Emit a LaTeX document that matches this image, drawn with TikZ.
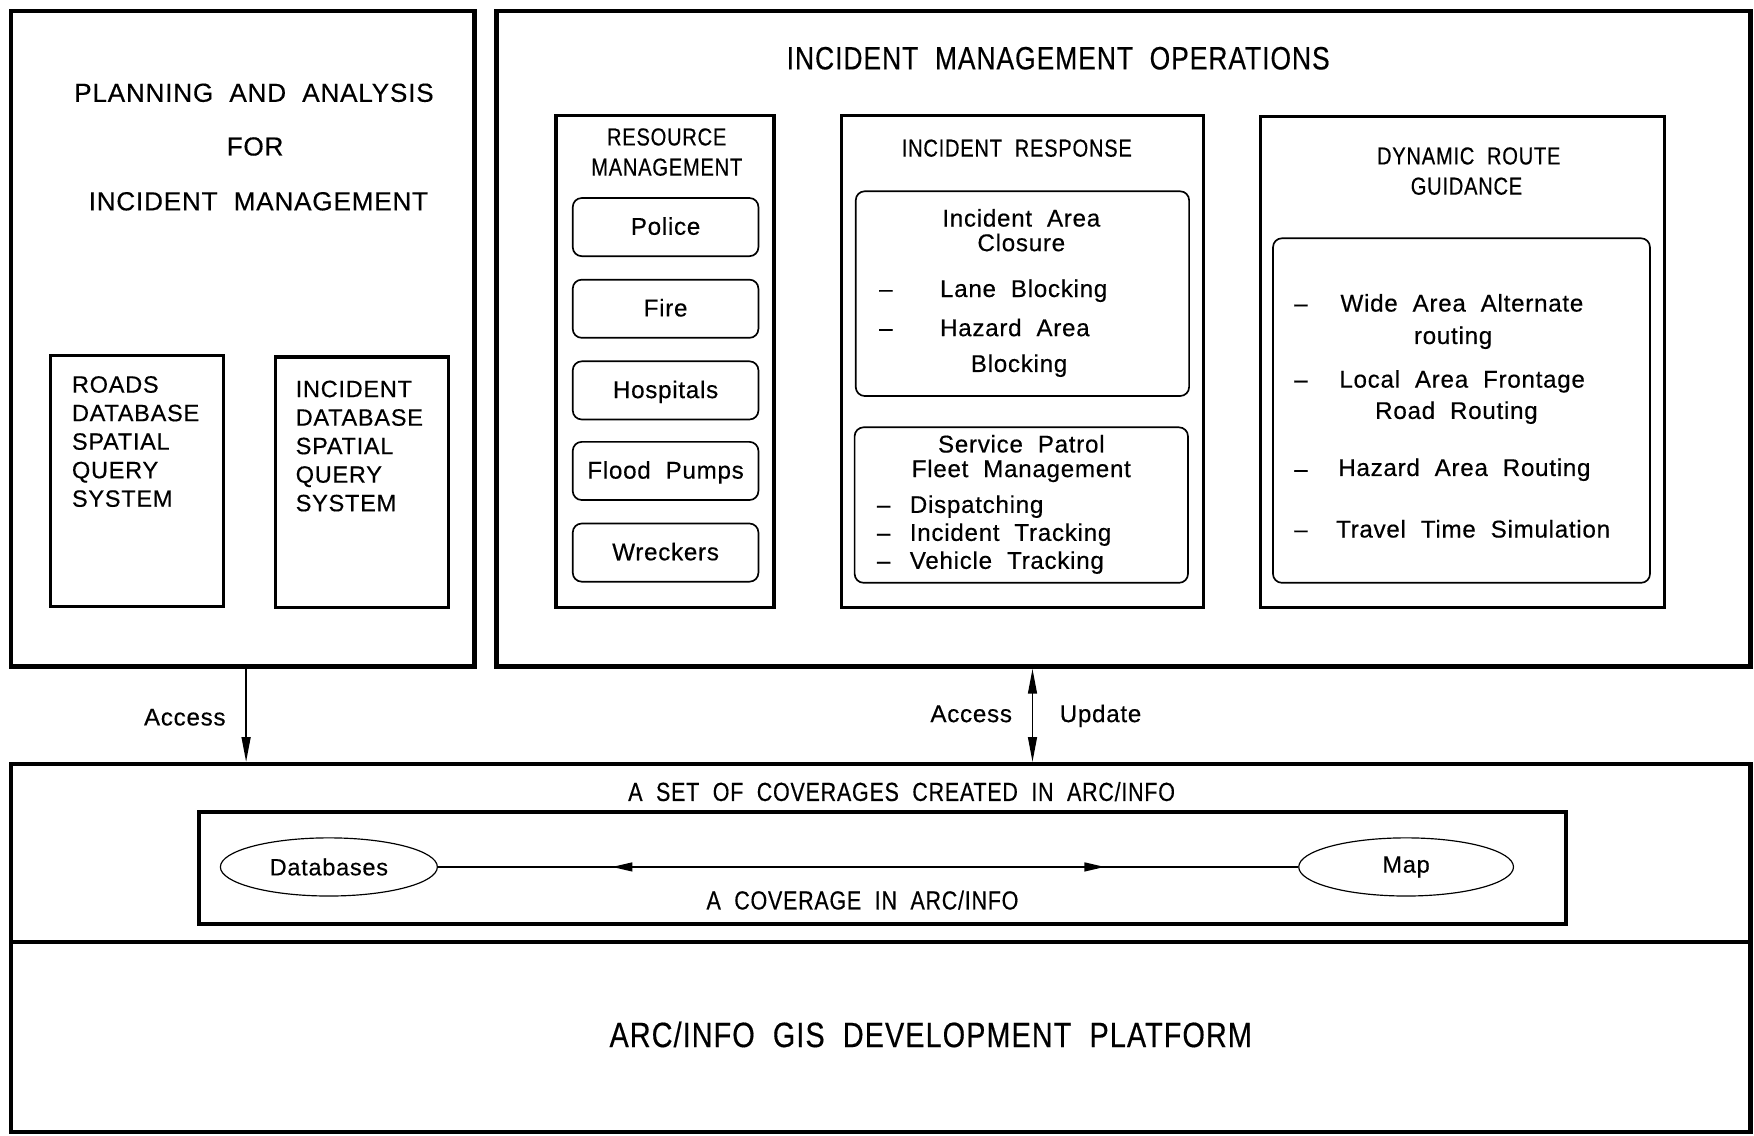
\documentclass[tikz,border=0pt]{standalone}
\usepackage{fontspec}
\setmainfont{Liberation Sans}[LetterSpace=3,WordSpace=2,FakeBold=0.4]
\newfontfamily\narrowfont{Liberation Sans}[FakeStretch=0.82,LetterSpace=3,WordSpace=2,FakeBold=0.4]
\usetikzlibrary{arrows.meta,shapes.geometric,fit,decorations.markings}

\tikzset{
  heavybox/.style={draw, line width=2.3pt, inner sep=0pt},
  panel/.style={draw, line width=1.7pt, inner sep=0pt},
  softbox/.style={draw, line width=0.85pt, rounded corners=0.16cm, inner sep=0pt},
  oval/.style={draw, ellipse, line width=0.6pt, inner sep=0pt, minimum height=1.04cm, font=\fontsize{12}{14}\selectfont},
  itemtxt/.style={font=\fontsize{12.3}{14}\selectfont, inner sep=0pt},
  headtxt/.style={font=\fontsize{13.3}{16}\selectfont, inner sep=0pt},
  dbtxt/.style={font=\fontsize{12}{14}\selectfont, inner sep=0pt},
  captxt/.style={font=\narrowfont\fontsize{12.5}{15}\selectfont, inner sep=0pt},
  covtxt/.style={font=\narrowfont\fontsize{13.3}{16}\selectfont, inner sep=0pt},
  titletxt/.style={font=\narrowfont\fontsize{16.4}{19}\selectfont, inner sep=0pt},
  gistxt/.style={font=\narrowfont\fontsize{17.9}{21}\selectfont, inner sep=0pt},
  flow/.style={line width=0.7pt, -{Triangle[length=0.44cm,width=0.16cm]}},
  twoway/.style={line width=0.7pt, {Triangle[length=0.44cm,width=0.16cm]}-{Triangle[length=0.44cm,width=0.16cm]}},
  covline/.style={line width=0.7pt, postaction={decorate}, decoration={markings,
      mark=at position 0.226 with {\arrow{Triangle[length=0.36cm,width=0.16cm,reversed]}},
      mark=at position 0.775 with {\arrow{Triangle[length=0.36cm,width=0.16cm]}}}},
}

\begin{document}
\begin{tikzpicture}[x=0.02cm, y=-0.02cm]
\useasboundingbox (0,0) rectangle (1568,1015);

% planning and analysis
\node[heavybox, fit={(10,10) (424,596)}] (plan) {};
\node[headtxt, anchor=base] (plan-t1) at (227,91) {PLANNING AND ANALYSIS};
\node[headtxt, anchor=base] (plan-t2) at (228,139) {FOR};
\node[headtxt, anchor=base] (plan-t3) at (231,188) {INCIDENT MANAGEMENT};
\node[panel, fit={(45,318) (200,542)}] (roads) {};
\node[panel, fit={(246,319) (401,543)}] (incdb) {};
\foreach \t [count=\i] in {ROADS,DATABASE,SPATIAL,QUERY,SYSTEM}
  \node[dbtxt, anchor=base west] (roads-\i) at (64,{351+25.5*(\i-1)}) {\t};
\foreach \t [count=\i] in {INCIDENT,DATABASE,SPATIAL,QUERY,SYSTEM}
  \node[dbtxt, anchor=base west] (incdb-\i) at (264,{355+25.5*(\i-1)}) {\t};

% operations
\node[heavybox, fit={(444,10) (1565,596)}] (ops) {};
\node[titletxt, anchor=base] (ops-t) at (946,62) {INCIDENT MANAGEMENT OPERATIONS};

\node[panel, fit={(497,103) (692,543)}] (res) {};
\node[captxt, anchor=base] (res-t1) at (596,130) {RESOURCE};
\node[captxt, anchor=base] (res-t2) at (596,157) {MANAGEMENT};
\foreach \t/\y [count=\i] in {Police/203,Fire/276,Hospitals/349,Flood Pumps/421,Wreckers/494}
  \node[softbox, itemtxt, minimum width=3.32cm, minimum height=1.04cm, text height=8.8pt, text depth=1pt] (res-\i) at (595,\y) {\t};

\node[panel, fit={(752,103) (1076,543)}] (resp) {};
\node[captxt, anchor=base] (resp-t) at (909,140) {INCIDENT RESPONSE};
\node[softbox, fit={(765,171) (1063,354)}] (closure) {};
\node[itemtxt, anchor=base] (closure-t1) at (913,202.5) {Incident Area};
\node[itemtxt, anchor=base] (closure-t2) at (913,224.5) {Closure};
\node[itemtxt, anchor=base] (closure-d1) at (792,265.5) {–};
\node[itemtxt, anchor=base west] (closure-1) at (840,265.5) {Lane Blocking};
\node[itemtxt, anchor=base] (closure-d2) at (792,300.5) {–};
\node[itemtxt, anchor=base west] (closure-2) at (840,300.5) {Hazard Area};
\node[itemtxt, anchor=base] (closure-3) at (911,332.5) {Blocking};
\node[softbox, fit={(764,382) (1062,521)}] (patrol) {};
\node[itemtxt, anchor=base] (patrol-t1) at (913,404.5) {Service Patrol};
\node[itemtxt, anchor=base] (patrol-t2) at (913,426.5) {Fleet Management};
\foreach \t [count=\i] in {Dispatching,Incident Tracking,Vehicle Tracking} {
  \node[itemtxt, anchor=base] (patrol-d\i) at (790,{458.5+25*(\i-1)}) {–};
  \node[itemtxt, anchor=base west] (patrol-\i) at (813,{458.5+25*(\i-1)}) {\t};
}

\node[panel, fit={(1127,104) (1488,543)}] (route) {};
\node[captxt, anchor=base] (route-t1) at (1313,147) {DYNAMIC ROUTE};
\node[captxt, anchor=base] (route-t2) at (1311,174) {GUIDANCE};
\node[softbox, fit={(1138,213) (1475,521)}] (guide) {};
\foreach \y [count=\i] in {278.5,346.5,426.5,480.5}
  \node[itemtxt, anchor=base] (guide-d\i) at (1163,\y) {–};
\node[itemtxt, anchor=base west] (guide-1) at (1198,278.5) {Wide Area Alternate};
\node[itemtxt, anchor=base] (guide-1b) at (1299,307.5) {routing};
\node[itemtxt, anchor=base west] (guide-2) at (1197,346.5) {Local Area Frontage};
\node[itemtxt, anchor=base] (guide-2b) at (1302,374.5) {Road Routing};
\node[itemtxt, anchor=base west] (guide-3) at (1196,425.5) {Hazard Area Routing};
\node[itemtxt, anchor=base west] (guide-4) at (1194,480.5) {Travel Time Simulation};

% coverages and platform
\node[heavybox, fit={(10,683) (1565,842)}] (cover) {};
\node[heavybox, fit={(10,842) (1565,1012)}] (gis) {};
\node[covtxt, anchor=base] (cover-t) at (806,716) {A SET OF COVERAGES CREATED IN ARC/INFO};
\node[panel, fit={(178,726) (1400,826)}] (layer) {};
\node[oval, minimum width=3.88cm] (db) at (294,775) {Databases};
\node[oval, minimum width=3.84cm] (map) at (1257,775) {Map};
\draw[covline] (db) -- (map);
\node[covtxt, anchor=base] (layer-t) at (771,813) {A COVERAGE IN ARC/INFO};
\node[gistxt, anchor=base] (gis-t) at (832,936) {ARC/INFO GIS DEVELOPMENT PLATFORM};

% access links
\coordinate (acc) at (220,640);
\coordinate (upd) at (923,640);
\draw[flow] (plan.south -| acc) -- (cover.north -| acc);
\draw[twoway] (ops.south -| upd) -- (cover.north -| upd);
\node[itemtxt, anchor=base east] (acc-l) at (202,648.5) {Access};
\node[itemtxt, anchor=base east] (upd-l) at (905,645.5) {Access};
\node[itemtxt, anchor=base west] (upd-r) at (947,645.5) {Update};
\end{tikzpicture}
\end{document}
